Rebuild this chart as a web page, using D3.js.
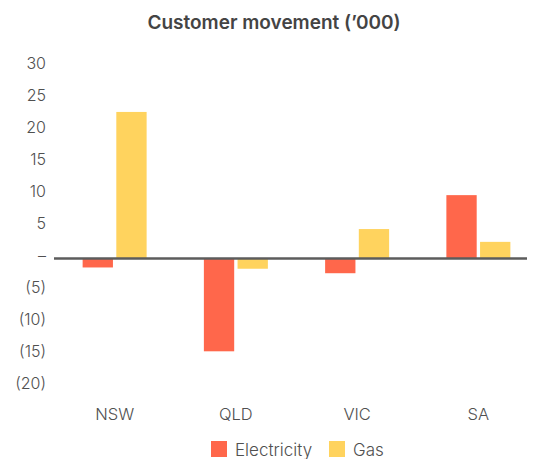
<!DOCTYPE html>
<html>
<head>
<meta charset="utf-8">
<script src="https://cdn.jsdelivr.net/npm/d3@7"></script>
<style>
  body { margin: 0; background: #fff; }
  text { font-family: "Inter", "Open Sans", sans-serif; fill: #505050; }
</style>
</head>
<body>
<div id="chart"></div>
<script>
// chart data
var states = ["NSW", "QLD", "VIC", "SA"];
var series = ["Electricity", "Gas"];
var electricity = [-1.4, -14.5, -2.3, 9.9];
var gas = [22.9, -1.6, 4.6, 2.6];
var yTicks = [30, 25, 20, 15, 10, 5, 0, -5, -10, -15, -20];

var colors = { Electricity: "#ff674b", Gas: "#ffd35e" };

var svgWidth = 537;
var svgHeight = 459;

var svg = d3.select("#chart")
  .append("svg")
  .attr("width", svgWidth)
  .attr("height", svgHeight);

// build rows for grouping
var rows = states.map(function(s, i) {
  return { state: s, Electricity: electricity[i], Gas: gas[i] };
});

var x0 = d3.scaleBand()
  .domain(states)
  .range([54, 539]);

var x1 = d3.scaleBand()
  .domain(series)
  .range([0, 64])
  .paddingInner(0.1);

var y = d3.scaleLinear()
  .domain([-20, 30])
  .range([258.5 + 20 * 6.4, 258.5 - 30 * 6.4]);

// title
svg.append("text")
  .attr("x", 274)
  .attr("y", 29)
  .attr("text-anchor", "middle")
  .style("font-size", "19px")
  .style("font-weight", 600)
  .style("fill", "#444")
  .text("Customer movement (\u2019000)");

// y axis labels
function fmt(v) {
  if (v === 0) return "\u2013";
  if (v < 0) return "(" + Math.abs(v) + ")";
  return v;
}

var yAxis = svg.append("g")
  .attr("transform", "translate(46, -3.5)")
  .call(d3.axisLeft(y).tickValues(yTicks).tickFormat(fmt).tickSize(0).tickPadding(0));
yAxis.select(".domain").remove();
yAxis.selectAll("text")
  .style("font-size", "16px")
  .style("font-weight", 300)
  .style("font-family", null)
  .attr("fill", null);

// bars
var groups = svg.selectAll(".grp")
  .data(rows)
  .enter()
  .append("g")
  .attr("class", "grp")
  .attr("transform", d => "translate(" + (x0(d.state) + x0.bandwidth() / 2 - 32) + ",0)");

groups.selectAll("rect")
  .data(d => series.map(k => ({ key: k, value: d[k] })))
  .enter()
  .append("rect")
  .attr("x", d => x1(d.key))
  .attr("y", d => y(Math.max(0, d.value)))
  .attr("width", x1.bandwidth())
  .attr("height", d => Math.abs(y(d.value) - y(0)))
  .attr("fill", d => colors[d.key]);

// zero line
svg.append("line")
  .attr("x1", 54)
  .attr("x2", 527)
  .attr("y1", y(0))
  .attr("y2", y(0))
  .attr("stroke", "#5c5c5c")
  .attr("stroke-width", 2.5);

// x axis labels
var xAxis = svg.append("g")
  .attr("transform", "translate(0, 414)")
  .call(d3.axisBottom(x0).tickSize(0).tickPadding(0));
xAxis.select(".domain").remove();
xAxis.selectAll("text")
  .attr("dy", "0.35em")
  .attr("fill", null)
  .style("font-family", null)
  .style("font-weight", 300)
  .style("font-size", "16.5px");

// legend
var legend = svg.append("g").attr("transform", "translate(211, 441)");
var legendX = [0, 118];
series.forEach(function(k, i) {
  var g = legend.append("g").attr("transform", "translate(" + legendX[i] + ",0)");
  g.append("rect").attr("width", 16).attr("height", 16).attr("fill", colors[k]);
  g.append("text")
    .attr("x", 24)
    .attr("y", 15)
    .style("font-size", "17px")
    .style("font-weight", 300)
    .text(k);
});
</script>
</body>
</html>
